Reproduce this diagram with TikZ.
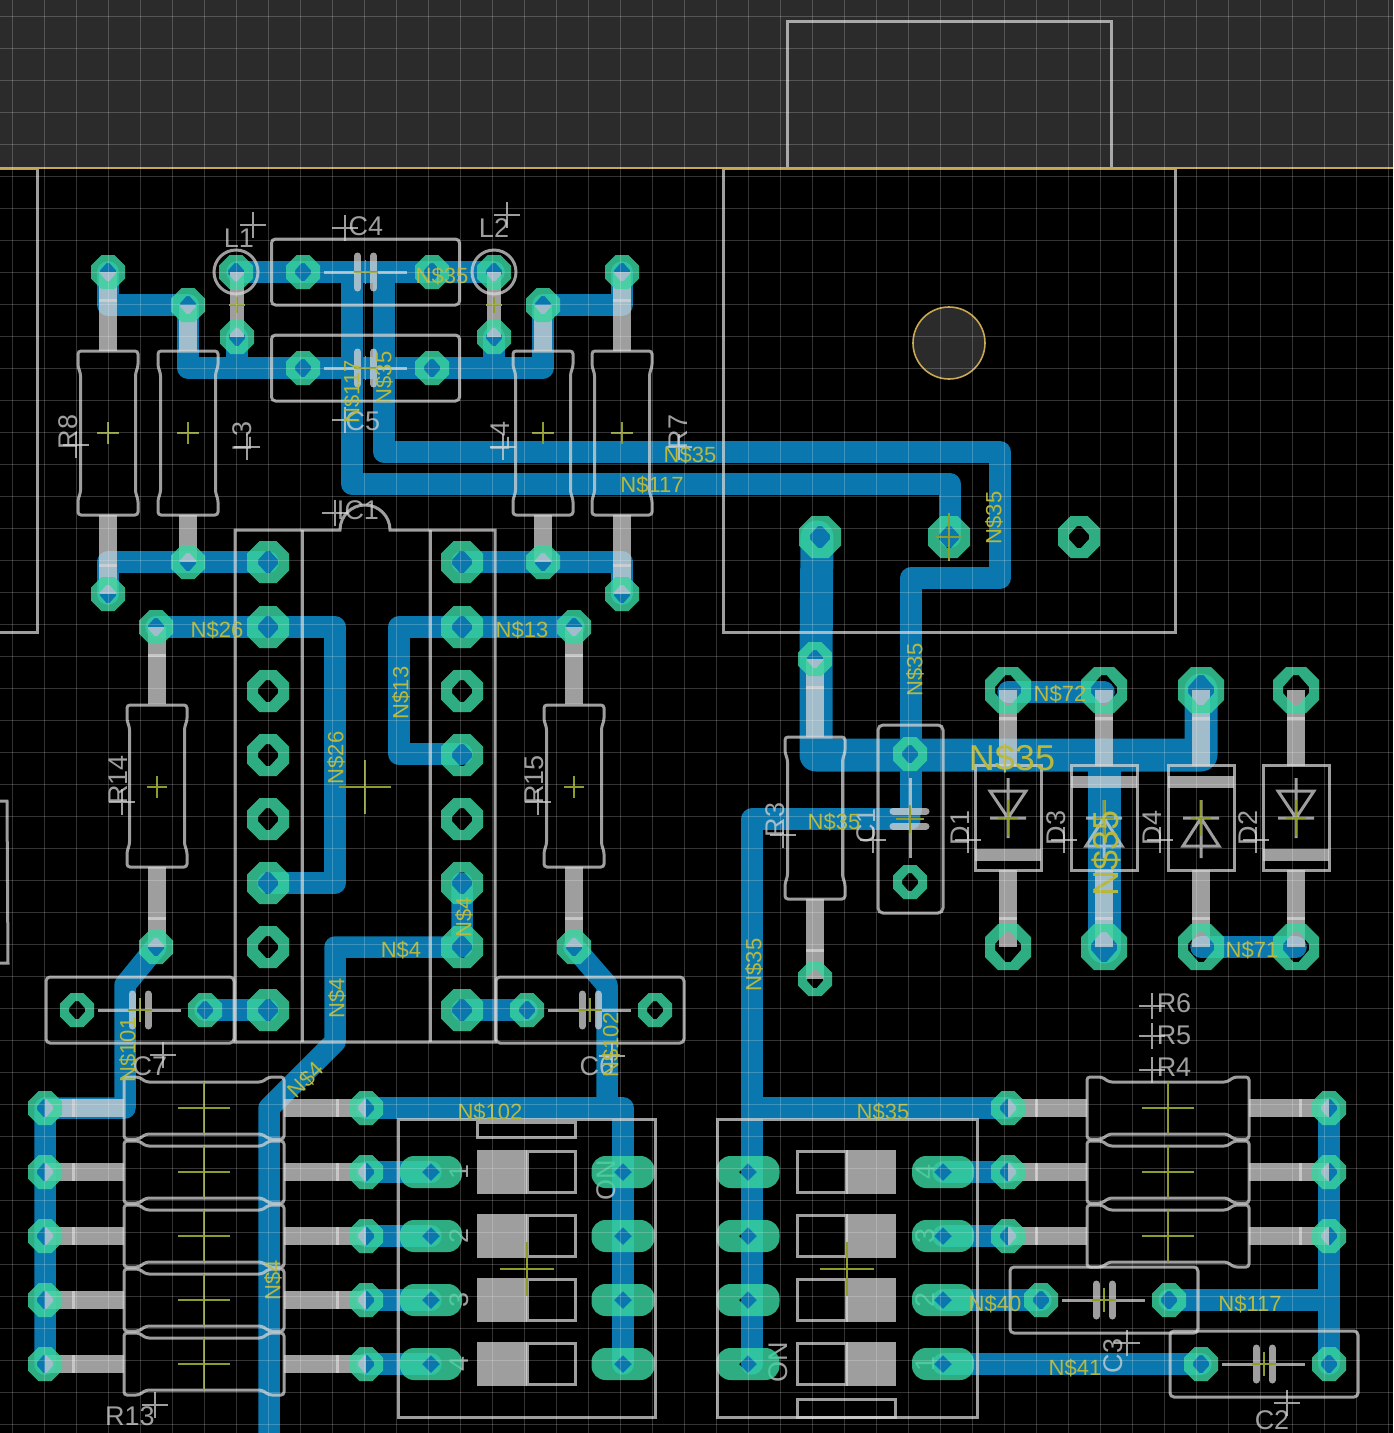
\documentclass[tikz,border=0pt]{standalone}
\usepackage{fontspec}
\setmainfont{Liberation Sans}
\usetikzlibrary{calc}
\definecolor{band}{HTML}{2B2B2B}
\definecolor{copper}{HTML}{0A78AE}
\definecolor{padc}{HTML}{38D49E}
\definecolor{outl}{HTML}{C8A850}
\definecolor{olive}{HTML}{8F9C2A}
\definecolor{netc}{HTML}{B8B83C}
\newcounter{lc}
\tikzset{
  trace/.style={draw=copper,line width=21.5pt,line join=round,line cap=round},
  thick trace/.style={draw=copper,line width=33pt,line join=round,line cap=round},
  wire/.style={draw=white!83!black,opacity=.75,line width=17.5pt},
  silk/.style={draw=white!83!black,opacity=.75,line width=3pt},
  silkfill/.style={fill=white!83!black,opacity=.75},
  plate/.style={draw=white!83!black,opacity=.75,line width=7pt,line cap=round},
  padfill/.style={fill=padc,fill opacity=.82,even odd rule},
  oliveline/.style={draw=olive,line width=1.6pt},
  origin/.style={draw=white!83!black,opacity=.75,line width=1.4pt},
  netlabel/.style={text=netc,inner sep=0pt,font=\fontsize{22}{22}\selectfont},
  biglabel/.style={text=netc,inner sep=0pt,font=\fontsize{36}{36}\selectfont},
  silklabel/.style={text=white!83!black,text opacity=.75,inner sep=0pt,font=\fontsize{27}{27}\selectfont},
}
% octagon pad: x y w h chamfer holew holeh
\newcommand\opad[7]{%
 \fill[padfill]
 ({#1-#3/2+#5},{#2-#4/2})--({#1+#3/2-#5},{#2-#4/2})--({#1+#3/2},{#2-#4/2+#5})--({#1+#3/2},{#2+#4/2-#5})--({#1+#3/2-#5},{#2+#4/2})--({#1-#3/2+#5},{#2+#4/2})--({#1-#3/2},{#2+#4/2-#5})--({#1-#3/2},{#2-#4/2+#5})--cycle
 ({#1-#6/2},{#2-#7/10})--({#1-#6/10},{#2-#7/2})--({#1+#6/10},{#2-#7/2})--({#1+#6/2},{#2-#7/10})--({#1+#6/2},{#2+#7/10})--({#1+#6/10},{#2+#7/2})--({#1-#6/10},{#2+#7/2})--({#1-#6/2},{#2+#7/10})--cycle;}
\newcommand\pS[2]{\opad{#1}{#2}{34}{34}{10.5}{16}{18}}
\newcommand\pM[2]{\opad{#1}{#2}{42}{42}{12.5}{20}{22}}
\newcommand\pL[2]{\opad{#1}{#2}{46}{46}{13}{26}{30}}
\newcommand\pR[3]{\fill[padfill,rounded corners=14pt] ({#1-#3/2},{#2-16}) rectangle ({#1+#3/2},{#2+16}) [sharp corners]
 ({#1-9},{#2})--({#1},{#2-9})--({#1+9},{#2})--({#1},{#2+9})--cycle;}
\newcommand\lead[4]{\coordinate (la) at (#1,#2);\coordinate (lb) at (#3,#4);
 \draw[wire] (la)--($(la)!30pt!(lb)$);\draw[wire] ($(la)!27pt!(lb)$)--(lb);}
\newcommand\vres[3]{\draw[silk,rounded corners=3pt]
 ({#1-30},#2)--({#1+30},#2)--({#1+30},{#2+16})--({#1+27.5},{#2+22})--({#1+27.5},{#3-22})--({#1+30},{#3-16})--({#1+30},#3)--({#1-30},#3)--({#1-30},{#3-16})--({#1-27.5},{#3-22})--({#1-27.5},{#2+22})--({#1-30},{#2+16})--cycle;}
\newcommand\hres[3]{\draw[silk,rounded corners=3pt]
 ({#1-#3},{#2-31})--({#1-#3+15},{#2-31})--({#1-#3+22},{#2-26})--({#1+#3-22},{#2-26})--({#1+#3-15},{#2-31})--({#1+#3},{#2-31})--({#1+#3},{#2+31})--({#1+#3-15},{#2+31})--({#1+#3-22},{#2+26})--({#1-#3+22},{#2+26})--({#1-#3+15},{#2+31})--({#1-#3},{#2+31})--cycle;}
\newcommand\cross[4]{\draw[oliveline] ({#1-#3},#2)--({#1+#3},#2) (#1,{#2-#4})--(#1,{#2+#4});}
\newcommand\ocross[2]{\draw[origin] ({#1-13},#2)--({#1+13},#2) (#1,{#2-13})--(#1,{#2+13});}
\newcommand\hcap[2]{\draw[silk,rounded corners=4pt] ({#1-94},{#2-33}) rectangle ({#1+94},{#2+33});
 \draw[silk] ({#1-42},#2)--({#1-11},#2) ({#1+12},#2)--({#1+41},#2);
 \draw[plate] ({#1-8},{#2-16})--({#1-8},{#2+16}) ({#1+8},{#2-16})--({#1+8},{#2+16});
 \cross{#1}{#2}{12}{12}}
\newcommand\nlab[4]{\stepcounter{lc}\node[netlabel,rotate=#3] (net\arabic{lc}) at (#1,#2) {#4};}
\newcommand\slab[4]{\stepcounter{lc}\node[silklabel,rotate=#3] (silk\arabic{lc}) at (#1,#2) {#4};}
\begin{document}
\begin{tikzpicture}[x=1pt,y=-1pt]
\useasboundingbox (0,0) rectangle (1393,1433);
\clip (0,0) rectangle (1393,1433);
\fill[black] (0,0) rectangle (1393,1433);
\fill[band] (0,0) rectangle (1393,168);
% ---------- copper
\draw[trace] (108,272)--(108,305)--(188,305)--(188,368)--(543,368)--(543,305)--(622,305)--(622,272);
\draw[trace] (237,272)--(494,272);
\draw[trace] (237,337)--(237,368);
\draw[trace] (494,337)--(494,368);
\draw[trace] (352,272)--(352,484)--(950,484)--(950,537);
\draw[trace] (384,272)--(384,452)--(1000,452)--(1000,578)--(911,578)--(911,810);
\draw[trace] (108,594)--(108,562)--(268,562);
\draw[trace] (462,562)--(622,562)--(622,594);
\draw[trace] (156,627)--(335,627)--(335,883)--(268,883);
\draw[trace] (574,627)--(399,627)--(399,754)--(462,754);
\draw[trace] (462,883)--(462,947)--(335,947)--(335,1042)--(269,1108)--(269,1440);
\draw[trace] (156,947)--(125,985)--(125,1108)--(45,1108)--(45,1364);
\draw[trace] (574,947)--(607,985)--(607,1108);
\draw[trace] (366,1108)--(623,1108)--(623,1364);
\draw[trace] (205,1010)--(268,1010);
\draw[trace] (462,1010)--(527,1010);
\foreach \yy in {1172,1236,1300,1364} {\draw[trace] (366,\yy)--(431,\yy);}
\draw[thick trace] (817,537)--(816,659)--(816,755)--(1201,755)--(1201,690);
\draw[thick trace] (1104,755)--(1104,947);
\draw[trace] (1008,692)--(1104,692);
\draw[trace] (1201,947)--(1296,947);
\draw[trace] (910,819)--(752,819)--(752,1364);
\draw[trace] (752,1108)--(1008,1108);
\draw[trace] (943,1172)--(1008,1172);
\draw[trace] (943,1236)--(1008,1236);
\draw[trace] (943,1300)--(1041,1300);
\draw[trace] (943,1364)--(1201,1364);
\draw[trace] (1169,1300)--(1329,1300);
\draw[trace] (1329,1108)--(1329,1364);
% ---------- component leads
\lead{108}{272}{108}{351}\lead{108}{594}{108}{515}
\lead{622}{272}{622}{351}\lead{622}{594}{622}{515}
\draw[wire] (188,305)--(188,351);\draw[wire] (543,305)--(543,351);
\draw[wire] (188,562)--(188,515);\draw[wire] (543,562)--(543,515);
\lead{157}{627}{157}{704}\lead{157}{947}{157}{867}
\lead{574}{627}{574}{704}\lead{574}{947}{574}{867}
\lead{815}{659}{815}{737}\lead{815}{979}{815}{899}
\draw[wire,line width=14pt] (237,272)--(237,337);
\draw[wire,line width=14pt] (494,272)--(494,337);
\foreach \yy in {1108,1172,1236,1300,1364} {\lead{45}{\yy}{124}{\yy}\lead{366}{\yy}{284}{\yy}}
\foreach \yy in {1108,1172,1236} {\lead{1008}{\yy}{1087}{\yy}\lead{1329}{\yy}{1249}{\yy}}
\foreach \xx in {1008,1104,1201,1296} {\lead{\xx}{690}{\xx}{766}\lead{\xx}{947}{\xx}{870}}
% ---------- switch bodies
\foreach \yy in {1172,1236,1300,1364} {
 \fill[silkfill] (477,{\yy-22}) rectangle (527,{\yy+22});
 \draw[silk] (527,{\yy-21}) rectangle (575,{\yy+20});
 \fill[silkfill] (846,{\yy-22}) rectangle (896,{\yy+22});
 \draw[silk] (797,{\yy-21}) rectangle (846,{\yy+20});
}
% ---------- switch numbers, under the pads
\slab{606}{1180}{90}{ON}\slab{778}{1362}{90}{ON}
\foreach \yy/\ttx in {1172/1,1236/2,1300/3,1364/4} {\slab{459}{\yy}{90}{\ttx}}
\foreach \yy/\ttx in {1172/4,1236/3,1300/2,1364/1} {\slab{925}{\yy}{90}{\ttx}}
% ---------- pads
\foreach \xx/\yy in {108/272,188/305,237/337,543/305,494/337,622/272,108/594,188/562,543/562,622/594,
 303/272,432/272,303/368,432/368,156/627,574/627,156/947,574/947,
 77/1010,205/1010,527/1010,655/1010,815/659,815/979,910/754,910/882,
 1041/1300,1169/1300,1201/1364,1329/1364,
 45/1108,45/1172,45/1236,45/1300,45/1364,366/1108,366/1172,366/1236,366/1300,366/1364,
 1008/1108,1008/1172,1008/1236,1329/1108,1329/1172,1329/1236} {\pS{\xx}{\yy}}
\pS{236}{272}\pS{494}{272}
\foreach \yy in {562,627,691,755,819,883,947,1010} {\pM{268}{\yy}\pM{462}{\yy}}
\foreach \xx in {820,949,1079} {\pM{\xx}{537}}
\foreach \xx in {1008,1104,1201,1296} {\pL{\xx}{690}\pL{\xx}{947}}
\foreach \yy in {1172,1236,1300,1364} {\pR{431}{\yy}{62}\pR{623}{\yy}{63}\pR{748}{\yy}{63}\pR{943}{\yy}{62}}
% ---------- silk outlines
\draw[silk] (0,168)--(37,168)--(37,632)--(0,632);
\draw[silk] (0,801)--(7,801)--(8,963)--(0,963);
\draw[silk] (787,168)--(787,21)--(1111,21)--(1111,168);
\draw[silk] (723,168) rectangle (1175,632);
\draw[silk] (235,530)--(340,530) arc[start angle=180,end angle=360,x radius=25,y radius=25]--(495,530)--(495,1042)--(235,1042)--cycle;
\draw[silk] (302,530)--(302,1042) (430,530)--(430,1042);
\draw[silk] (236,272) circle[radius=22];
\draw[silk] (494,272) circle[radius=22];
\vres{108}{351}{515}\vres{188}{351}{515}\vres{543}{351}{515}\vres{622}{351}{515}
\vres{157}{705}{867}\vres{574}{705}{867}\vres{815}{737}{899}
\foreach \yy in {1108,1172,1236,1300,1364} {\hres{204}{\yy}{80}}
\foreach \yy in {1108,1172,1236} {\hres{1168}{\yy}{81}}
\hcap{365.5}{272}\hcap{365.5}{368}\hcap{140}{1010}\hcap{590}{1010}\hcap{1104}{1300}\hcap{1264}{1364}
% vertical capacitor
\draw[silk,rounded corners=5pt] (878,725) rectangle (943,913);
\draw[silk] (910,778)--(910,808) (910,830)--(910,858);
\draw[plate] (893,811)--(926,811) (893,826)--(926,826);
% diodes
\foreach \xx in {1008,1296} {
 \draw[silk] ({\xx-33},765) rectangle ({\xx+33},870);
 \fill[silkfill] ({\xx-33},849) rectangle ({\xx+33},861);
 \draw[silk] ({\xx-18},791)--({\xx+18},791)--(\xx,818)--cycle ({\xx-18},818)--({\xx+18},818) (\xx,778)--(\xx,838);
 \cross{\xx}{818}{10}{18}}
\foreach \xx in {1104,1201} {
 \draw[silk] ({\xx-33},765) rectangle ({\xx+33},870);
 \fill[silkfill] ({\xx-33},776) rectangle ({\xx+33},788);
 \draw[silk] ({\xx-18},846)--({\xx+18},846)--(\xx,818)--cycle ({\xx-18},818)--({\xx+18},818) (\xx,800)--(\xx,858);
 \cross{\xx}{818}{10}{18}}
% DIP switches
\draw[silk] (398,1119) rectangle (655,1417);
\draw[silk] (477,1122) rectangle (575,1137);
\draw[silk] (717,1119) rectangle (977,1417);
\draw[silk] (797,1399) rectangle (895,1417);
% ---------- origin marks
\cross{108}{433}{11}{11}\cross{188}{433}{11}{11}\cross{543}{433}{11}{11}\cross{622}{433}{11}{11}
\cross{157}{787}{10}{11}\cross{574}{787}{10}{11}\cross{365}{787}{26}{27}
\cross{237}{305}{8}{8}\cross{494}{305}{8}{8}\cross{949}{537}{13}{24}\cross{910}{819}{14}{14}
\foreach \yy in {1108,1172,1236,1300,1364} {\cross{204}{\yy}{26}{26}}
\foreach \yy in {1108,1172,1236} {\cross{1168}{\yy}{26}{26}}
\cross{527}{1269}{27}{27}\cross{847}{1269}{27}{27}
\foreach \xx/\yy in {345/228,345/420,335/513,253/225,507/215,76/445,247/447,503/447,679/447,
 122/802,538/802,783/835,873/840,968/840,1064/840,1160/840,1256/840,
 1152/1006,1152/1036,1152/1070,163/1055,612/1056,155/1405,1127/1343,1287/1403} {\ocross{\xx}{\yy}}
% ---------- component names
\slab{366}{226}{0}{C4}\slab{363}{421}{0}{C5}\slab{358}{510}{0}{IC1}
\slab{239}{238}{0}{L1}\slab{494}{228}{0}{L2}
\slab{68}{432}{90}{R8}\slab{242}{436}{90}{L3}\slab{500}{436}{90}{L4}\slab{678}{432}{90}{R7}
\slab{118}{780}{90}{R14}\slab{534}{780}{90}{R15}\slab{775}{820}{90}{R3}\slab{866}{826}{90}{C1}
\slab{960}{828}{90}{D1}\slab{1056}{828}{90}{D3}\slab{1152}{828}{90}{D4}\slab{1248}{828}{90}{D2}
\slab{1174}{1003}{0}{R6}\slab{1174}{1035}{0}{R5}\slab{1174}{1067}{0}{R4}
\slab{150}{1066}{0}{C7}\slab{597}{1066}{0}{C6}\slab{130}{1416}{0}{R13}
\slab{1113}{1356}{90}{C3}\slab{1272}{1420}{0}{C2}
% ---------- net names
\nlab{442}{276}{0}{N\$35}\nlab{352}{392}{90}{N\$117}\nlab{384}{378}{90}{N\$35}
\nlab{690}{455}{0}{N\$35}\nlab{652}{485}{0}{N\$117}\nlab{994}{518}{90}{N\$35}\nlab{915}{670}{90}{N\$35}
\nlab{1060}{694}{0}{N\$72}\nlab{834}{822}{0}{N\$35}\nlab{1252}{950}{0}{N\$71}
\nlab{217}{630}{0}{N\$26}\nlab{522}{630}{0}{N\$13}\nlab{401}{693}{90}{N\$13}\nlab{336}{758}{90}{N\$26}
\nlab{464}{917}{90}{N\$4}\nlab{401}{950}{0}{N\$4}\nlab{337}{998}{90}{N\$4}\nlab{306}{1080}{45}{N\$4}
\nlab{128}{1050}{90}{N\$101}\nlab{611}{1045}{90}{N\$102}\nlab{490}{1112}{0}{N\$102}\nlab{273}{1280}{90}{N\$4}
\nlab{754}{965}{90}{N\$35}\nlab{883}{1112}{0}{N\$35}\nlab{995}{1304}{0}{N\$40}\nlab{1250}{1304}{0}{N\$117}\nlab{1075}{1368}{0}{N\$41}
\node[biglabel] (bignet1) at (1012,758) {N\$35};
\node[biglabel,rotate=90] (bignet2) at (1106,853) {N\$35};
% ---------- board outline and mount hole
\draw[draw=outl,line width=1.6pt,fill=band] (949,343) circle[radius=36];
\draw[draw=outl,line width=1.6pt] (0,168)--(1393,168);
% ---------- grid
\foreach \k in {0,...,43} {\draw[white,opacity=.2,line width=1.5pt] ({12.7+32*\k},0)--({12.7+32*\k},1433);}
\foreach \k in {0,...,44} {\draw[white,opacity=.2,line width=1.5pt] (0,{16.7+32*\k})--(1393,{16.7+32*\k});}
\end{tikzpicture}
\end{document}
